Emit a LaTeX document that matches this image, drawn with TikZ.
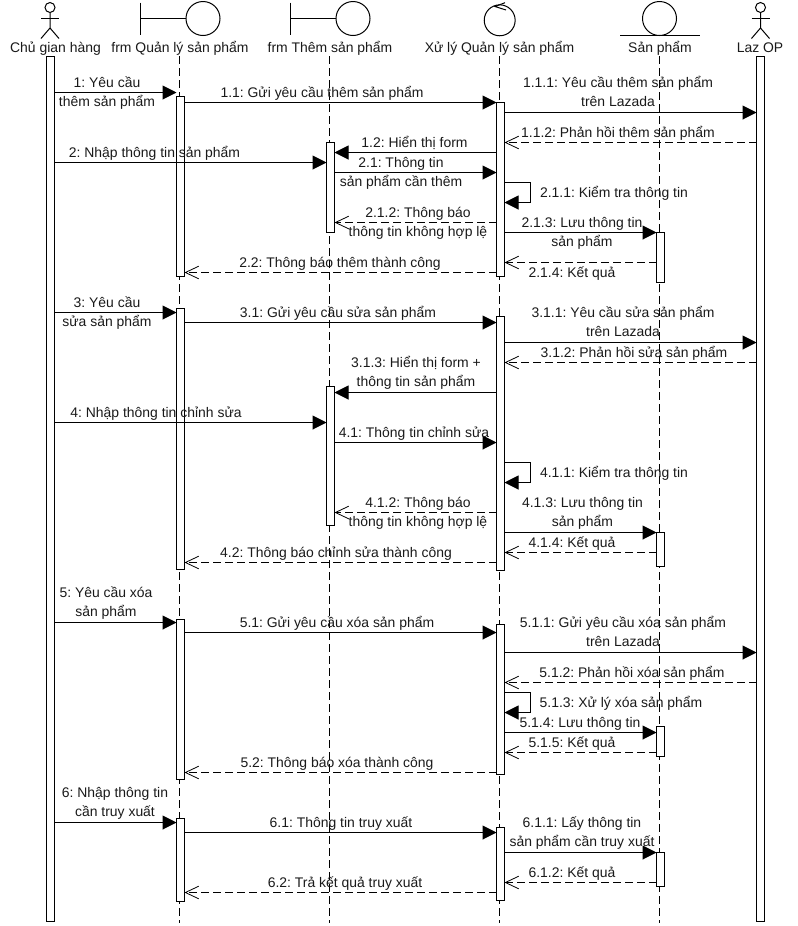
\documentclass[tikz,border=0pt]{standalone}
\usepackage{fontspec}
\setmainfont{Liberation Sans}
\usetikzlibrary{arrows.meta}
\definecolor{ink}{HTML}{1A1A1A}
\tikzset{
  shapeline/.style={draw=black,line width=.75pt},
  lifeline/.style={draw=black,line width=.75pt,dash pattern=on 6pt off 3pt},
  bar/.style={draw=black,fill=white,line width=.75pt,anchor=north west,inner sep=0pt,outer sep=0pt},
  lbl/.style={text=ink,font=\fontsize{10.45}{14.4}\selectfont\frenchspacing,align=center,inner sep=0pt},
  sync/.style={draw=black,line width=.75pt,-{Triangle[length=10.5pt,width=10.5pt]}},
  reply/.style={draw=black,line width=.75pt,dash pattern=on 6pt off 3pt,-{Straight Barb[length=10pt,width=9.5pt,line width=.6pt]}}
}
\newcommand{\barat}[4]{% name, x-center, ytop, ybottom
  \node[bar,minimum width=6pt,minimum height={(#4-#3)*.75pt}] (#1) at ({(#2-4)*.75pt},{-#3*.75pt}) {};}
\newcommand{\tx}[4]{\node[lbl] (#1) at ({#2*.75pt},{-(#3+1.5)*.75pt}) {\strut #4\strut};}
\newcommand{\hit}[4]{% style, from-node anchor, to-node anchor, y
  \coordinate (hy) at (0pt,{-#4*.75pt});
  \draw[#1] (#2 |- hy) -- (#3 |- hy);}
\newcommand{\selfm}[3]{% bar, ytop, ybottom
  \coordinate (st) at ({530*.75pt},{-#2*.75pt});
  \coordinate (sb) at ({530*.75pt},{-#3*.75pt});
  \draw[sync] (#1.east |- st) -- (st) -- (sb) -- (#1.east |- sb);}
\newcommand{\actor}[1]{% x
  \draw[shapeline] ({#1*.75pt},{-7.5*.75pt}) circle[radius=3.75pt];
  \draw[shapeline] ({#1*.75pt},{-12.5*.75pt}) -- ({#1*.75pt},{-28*.75pt})
    -- ({(#1-9)*.75pt},{-38.5*.75pt});
  \draw[shapeline] ({#1*.75pt},{-28*.75pt}) -- ({(#1+9)*.75pt},{-38.5*.75pt});
  \draw[shapeline] ({(#1-9)*.75pt},{-18.5*.75pt}) -- ({(#1+9)*.75pt},{-18.5*.75pt});}
\newcommand{\boundary}[2]{% bar x, circle x
  \draw[shapeline] ({#1*.75pt},{-2.5*.75pt}) -- ({#1*.75pt},{-35*.75pt});
  \draw[shapeline] ({#1*.75pt},{-18.5*.75pt}) -- ({(#2-17)*.75pt},{-18.5*.75pt});
  \draw[shapeline] ({#2*.75pt},{-18.5*.75pt}) circle[radius=12.75pt];}
\newcommand{\lifel}[2]{% name, x
  \coordinate (#1t) at ({#2*.75pt},{-56*.75pt});
  \coordinate (#1b) at ({#2*.75pt},{-922.5*.75pt});
  \draw[lifeline] (#1t) -- (#1b);}
\begin{document}
\begin{tikzpicture}
\useasboundingbox (0,0) rectangle (598.5pt,-694.5pt);
\fill[white] (0,0) rectangle (598.5pt,-694.5pt);
% symbols
\actor{50}
\boundary{140.5}{203}
\boundary{290.5}{353}
\draw[shapeline] ({499.7*.75pt},{-20.3*.75pt}) circle[radius=11.6pt];
\draw[shapeline] ({505*.75pt},{-2.7*.75pt}) -- ({495*.75pt},{-6.5*.75pt}) -- ({506*.75pt},{-10*.75pt});
\draw[shapeline] ({659.5*.75pt},{-18.5*.75pt}) circle[radius=12.75pt];
\draw[shapeline] ({620*.75pt},{-35*.75pt}) -- ({699.5*.75pt},{-35*.75pt});
\actor{760.5}
% titles
\tx{n1}{55.5}{47}{Chủ gian hàng}
\tx{n2}{180}{47}{frm Quản lý sản phẩm}
\tx{n3}{330}{47}{frm Thêm sản phẩm}
\tx{n4}{499.5}{47}{Xử lý Quản lý sản phẩm}
\tx{n5}{660}{47}{Sản phẩm}
\tx{n6}{760}{47}{Laz OP}
% lifelines
\lifel{l2}{179.5}
\lifel{l3}{329.5}
\lifel{l4}{499.5}
\lifel{l5}{659.5}
% bars
\barat{A}{50.5}{56.5}{921.5}
\barat{Z}{760.5}{56.5}{921.5}
\barat{B1}{180.5}{96.5}{276.5}
\barat{B2}{180.5}{308.5}{569.5}
\barat{B3}{180.5}{619.5}{779.5}
\barat{B4}{180.5}{818.5}{901.5}
\barat{C1}{330.5}{142.5}{232.5}
\barat{C2}{330.5}{386.5}{525.5}
\barat{D1}{500.5}{102.5}{276.5}
\barat{D2}{500.5}{316.5}{570.5}
\barat{D3}{500.5}{624.5}{774.5}
\barat{D4}{500.5}{827.5}{900.5}
\barat{E1}{660.5}{232.5}{282.5}
\barat{E2}{660.5}{532.5}{566.5}
\barat{E3}{660.5}{726.5}{756.5}
\barat{E4}{660.5}{852.5}{886.5}
% group 1
\hit{sync}{A.east}{B1.west}{92.5}
\tx{m1}{107}{91.5}{1: Yêu cầu\\thêm sản phẩm}
\hit{sync}{B1.east}{D1.west}{102.5}
\tx{m11}{322}{92}{1.1: Gửi yêu cầu thêm sản phẩm}
\hit{sync}{D1.east}{Z.west}{112.5}
\tx{m111}{618}{91.5}{1.1.1: Yêu cầu thêm sản phẩm\\trên Lazada}
\hit{reply}{Z.west}{D1.east}{142.5}
\tx{m112}{618}{132}{1.1.2: Phản hồi thêm sản phẩm}
\hit{sync}{D1.west}{C1.east}{152.5}
\tx{m12}{414.5}{142}{1.2: Hiển thị form}
\hit{sync}{A.east}{C1.west}{162.5}
\tx{m2}{154.5}{152}{2: Nhập thông tin sản phẩm}
\hit{sync}{C1.east}{D1.west}{172.5}
\tx{m21}{401}{171.5}{2.1: Thông tin\\sản phẩm cần thêm}
\selfm{D1}{182.5}{202.5}
\tx{m211}{614}{192}{2.1.1: Kiểm tra thông tin}
\hit{reply}{D1.west}{C1.east}{222.5}
\tx{m212}{418}{221.5}{2.1.2: Thông báo\\thông tin không hợp lệ}
\hit{sync}{D1.east}{E1.west}{232.5}
\tx{m213}{582}{231.5}{2.1.3: Lưu thông tin\\sản phẩm}
\hit{reply}{E1.west}{D1.east}{262.5}
\tx{m214}{572}{272}{2.1.4: Kết quả}
\hit{reply}{D1.west}{B1.east}{272.5}
\tx{m22}{340}{262}{2.2: Thông báo thêm thành công}
% group 2
\hit{sync}{A.east}{B2.west}{312.5}
\tx{m3}{107}{311.5}{3: Yêu cầu\\sửa sản phẩm}
\hit{sync}{B2.east}{D2.west}{322.5}
\tx{m31}{338}{312}{3.1: Gửi yêu cầu sửa sản phẩm}
\hit{sync}{D2.east}{Z.west}{342.5}
\tx{m311}{623}{321.5}{3.1.1: Yêu cầu sửa sản phẩm\\trên Lazada}
\hit{reply}{Z.west}{D2.east}{362.5}
\tx{m312}{634}{352}{3.1.2: Phản hồi sửa sản phẩm}
\hit{sync}{D2.west}{C2.east}{392.5}
\tx{m313}{416}{371.5}{3.1.3: Hiển thị form +\\thông tin sản phẩm}
\hit{sync}{A.east}{C2.west}{422.5}
\tx{m4}{156}{412}{4: Nhập thông tin chỉnh sửa}
\hit{sync}{C2.east}{D2.west}{442.5}
\tx{m41}{414}{432}{4.1: Thông tin chỉnh sửa}
\selfm{D2}{462.5}{482.5}
\tx{m411}{614}{472}{4.1.1: Kiểm tra thông tin}
\hit{reply}{D2.west}{C2.east}{512.5}
\tx{m412}{418}{511.5}{4.1.2: Thông báo\\thông tin không hợp lệ}
\hit{sync}{D2.east}{E2.west}{532.5}
\tx{m413}{582.5}{511.5}{4.1.3: Lưu thông tin\\sản phẩm}
\hit{reply}{E2.west}{D2.east}{552.5}
\tx{m414}{572}{542}{4.1.4: Kết quả}
\hit{reply}{D2.west}{B2.east}{562.5}
\tx{m42}{336}{552}{4.2: Thông báo chỉnh sửa thành công}
% group 3
\hit{sync}{A.east}{B3.west}{622.5}
\tx{m5}{106}{601.5}{5: Yêu cầu xóa\\sản phẩm}
\hit{sync}{B3.east}{D3.west}{632.5}
\tx{m51}{337}{622}{5.1: Gửi yêu cầu xóa sản phẩm}
\hit{sync}{D3.east}{Z.west}{652.5}
\tx{m511}{623}{631.5}{5.1.1: Gửi yêu cầu xóa sản phẩm\\trên Lazada}
\hit{reply}{Z.west}{D3.east}{682.5}
\tx{m512}{632}{672}{5.1.2: Phản hồi xóa sản phẩm}
\selfm{D3}{692.5}{712.5}
\tx{m513}{621}{702}{5.1.3: Xử lý xóa sản phẩm}
\hit{sync}{D3.east}{E3.west}{732.5}
\tx{m514}{580}{722}{5.1.4: Lưu thông tin}
\hit{reply}{E3.west}{D3.east}{752.5}
\tx{m515}{572}{742}{5.1.5: Kết quả}
\hit{reply}{D3.west}{B3.east}{772.5}
\tx{m52}{337}{762}{5.2: Thông báo xóa thành công}
% group 4
\hit{sync}{A.east}{B4.west}{822.5}
\tx{m6}{115}{801.5}{6: Nhập thông tin\\cần truy xuất}
\hit{sync}{B4.east}{D4.west}{832.5}
\tx{m61}{341}{822}{6.1: Thông tin truy xuất}
\hit{sync}{D4.east}{E4.west}{852.5}
\tx{m611}{582}{831.5}{6.1.1: Lấy thông tin\\sản phẩm cần truy xuất}
\hit{reply}{E4.west}{D4.east}{882.5}
\tx{m612}{572}{872}{6.1.2: Kết quả}
\hit{reply}{D4.west}{B4.east}{892.5}
\tx{m62}{345}{882}{6.2: Trả kết quả truy xuất}
\end{tikzpicture}
\end{document}
